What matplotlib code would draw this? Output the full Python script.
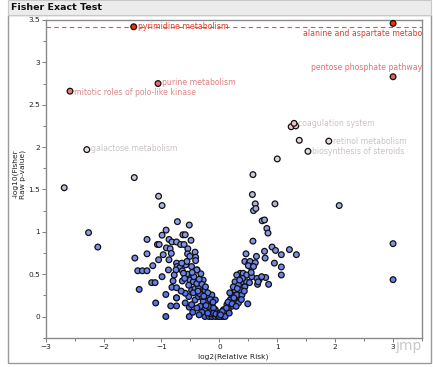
import matplotlib
matplotlib.use("Agg")
import matplotlib.pyplot as plt
from matplotlib.colors import LinearSegmentedColormap
from matplotlib.patches import Rectangle
from matplotlib.ticker import MultipleLocator

# unlabeled points, log2(relative risk) and -log10(p)
left_x = [-2.68, -1.47, -2.26, -2.10, -1.05, -0.99, -0.725, -0.52,
          -1.25, -0.92, -0.99, -1.07, -1.04, -0.87, -0.63, -0.59, -0.82, -0.74,
          -0.67, -0.61, -0.49, -0.915, -0.85, -0.545, -0.97, -0.83, -0.55, -0.42,
          -1.25, -1.46, -1.05, -0.87, -0.51, -0.41, -0.41, -0.74, -1.15, -0.73,
          -0.58, -0.68, -1.41, -1.33, -1.25, -0.88, -0.75, -0.64, -0.385, -0.32,
          -0.99, -0.78, -0.55, -0.50, -1.17, -1.11, -0.80, -0.64, -1.385, -0.925,
          -0.82, -0.74, -1.10, -0.84, -0.74, -0.52, -0.925, -0.52,
          -0.56, -0.48, -0.39, -0.28, -0.65, -0.62, -0.48, -0.42, -0.36, -0.30,
          -0.25, -0.19, -0.13, -0.22, -0.28, -0.33, -0.25, -0.16, -0.07, -0.02,
          0.04, -0.25, -0.18, -0.13, -0.07, -0.02, 0.04, -0.74, -0.53, -0.59,
          -0.51, -0.45, -0.39, -0.53, -0.13, -0.07, -0.42, -0.36, -0.30, -0.48,
          -0.39, -0.19, -0.10, -0.44, -0.35, -0.30, -0.24, -0.20, -0.16, -0.11,
          -0.34, -0.27, -0.23, -0.14, -0.10, -0.06, -0.30, -0.20, -0.45, -0.47,
          -0.37, -0.60, -0.66, -0.59, -0.46, -0.35, -0.74]
left_y = [1.52, 1.64, 0.99, 0.82, 1.42, 1.31, 1.12, 1.08,
          0.91, 1.02, 0.96, 0.85, 0.85, 0.91, 0.965, 0.965, 0.88, 0.88,
          0.85, 0.85, 0.90, 0.81, 0.80, 0.80, 0.73, 0.745, 0.74, 0.76,
          0.74, 0.69, 0.67, 0.67, 0.71, 0.70, 0.66, 0.63, 0.60, 0.59,
          0.61, 0.58, 0.54, 0.54, 0.54, 0.55, 0.55, 0.54, 0.55, 0.505,
          0.47, 0.49, 0.50, 0.45, 0.40, 0.40, 0.42, 0.42, 0.32, 0.26,
          0.345, 0.22, 0.16, 0.125, 0.125, 0.11, 0.0, 0.0,
          0.65, 0.59, 0.55, 0.43, 0.63, 0.51, 0.31, 0.33, 0.35, 0.29,
          0.31, 0.235, 0.14, 0.18, 0.18, 0.12, 0.08, 0.06, 0.08, 0.02,
          0.04, 0.0, 0.0, 0.0, 0.0, 0.0, 0.0, 0.34, 0.235, 0.275,
          0.43, 0.41, 0.39, 0.37, 0.255, 0.195, 0.195, 0.235, 0.235, 0.14,
          0.10, 0.12, 0.10, 0.47, 0.44, 0.38, 0.35, 0.28, 0.20, 0.17,
          0.27, 0.24, 0.13, 0.03, 0.04, 0.03, 0.05, 0.04, 0.28, 0.52,
          0.30, 0.45, 0.30, 0.16, 0.05, 0.02, 0.22]

right_x = [0.62, 0.59, 0.63, 0.96, 2.07, 0.74, 0.78, 0.82, 0.84, 0.58,
           3.0, 3.0, 0.91, 0.97, 1.21, 1.33, 1.07, 0.78, 0.79, 0.95,
           1.07, 1.07, 0.85, 0.80, 0.69, 0.66, 0.46, 0.44, 0.64, 0.51,
           0.53, 0.62, 0.49, 0.53, 0.50, 0.59, 0.36, 0.41, 0.30, 0.47,
           0.56, 0.65, 0.67, 0.73, 0.39, 0.47, 0.27, 0.33, 0.44, 0.36,
           0.27, 0.21, 0.30, 0.39, 0.185, 0.27, 0.33, 0.13, 0.21, 0.07,
           0.155, 0.01, 0.10, 0.06, 0.10, 0.00, 0.40, 0.35, 0.24, 0.31,
           0.18, 0.25, 0.15, 0.22, 0.12, 0.05, 0.17, 0.02, 0.43, 0.38,
           0.29, 0.52, 0.55,
           1.24, 1.32, 1.38, 1.00, 0.58, 0.57]
right_y = [1.33, 1.25, 1.275, 1.33, 1.31, 1.13, 1.14, 1.04, 0.985, 0.89,
           0.86, 0.435, 0.82, 0.78, 0.79, 0.73, 0.73, 0.77, 0.69, 0.63,
           0.585, 0.49, 0.38, 0.46, 0.44, 0.38, 0.74, 0.65, 0.71, 0.63,
           0.65, 0.635, 0.15, 0.59, 0.60, 0.59, 0.51, 0.51, 0.49, 0.49,
           0.47, 0.45, 0.41, 0.47, 0.41, 0.41, 0.41, 0.37, 0.35, 0.31,
           0.31, 0.255, 0.255, 0.255, 0.195, 0.195, 0.16, 0.14, 0.12, 0.08,
           0.08, 0.04, 0.04, 0.0, 0.0, 0.0, 0.45, 0.43, 0.35, 0.33,
           0.28, 0.22, 0.17, 0.15, 0.10, 0.06, 0.04, 0.02, 0.30, 0.20,
           0.12, 0.40, 0.52,
           2.24, 2.25, 2.08, 1.86, 1.675, 1.44]

# labeled pathways
names = ["pyrimidine metabolism", "alanine and aspartate metabo",
         "pentose phosphate pathway", "purine metabolism",
         "mitotic roles of polo-like kinase", "galactose metabolism",
         "coagulation system", "retinol metabolism", "biosynthesis of steroids"]
lab_x = [-1.48, 3.0, 3.0, -1.06, -2.58, -2.29, 1.29, 1.89, 1.53]
lab_y = [3.42, 3.46, 2.83, 2.75, 2.66, 1.97, 2.28, 2.07, 1.95]
lab_colors = ["#e0402c", "#d8402c", "#e07070", "#e08080", "#d88a8a",
              "#cbc2c2", "#d2c0c0", "#cbc2c2", "#cbc2c2"]
# offsets in pixels and alignment
lab_off = [(4, 0, "left", "center"), (0, -10, "right", "center"),
           (0, 9, "right", "center"), (4, 1, "left", "center"),
           (4, -1, "left", "center"), (4, 1, "left", "center"),
           (4, 0, "left", "center"), (4, 0, "left", "center"),
           (4, 0, "left", "center")]

sig_line = 3.42

cmap = LinearSegmentedColormap.from_list("jmp", [
    (0.0, "#4a68f0"), (0.15, "#6e86ea"), (0.3, "#909ee2"),
    (0.43, "#bcc0dc"), (0.57, "#e6e0e2"), (0.66, "#f0c4c4"),
    (0.77, "#ea7c7c"), (0.83, "#e85a52"), (1.0, "#ff2a00")])

fig = plt.figure(figsize=(4.33, 3.67), dpi=100)
W, H = 433, 367

# JMP panel frame and title bar
fig.patches.append(Rectangle((8 / W, 1 - 363 / H), 423 / W, 348 / H,
                             transform=fig.transFigure, facecolor="white",
                             edgecolor="#9a9a9a", lw=1.0, zorder=-5))
fig.patches.append(Rectangle((8 / W, 1 - 15 / H), 423 / W, 15 / H,
                             transform=fig.transFigure, facecolor="#ececec",
                             edgecolor="#c8c8c8", lw=0.8, zorder=-5))
fig.text(11 / W, 1 - 8 / H, "Fisher Exact Test", fontsize=6.8,
         fontweight="bold", va="center", ha="left", color="#111111")

ax = fig.add_axes([45.7 / W, 1 - 337.7 / H, (422 - 45.7) / W, (337.7 - 20) / H])
ax.set_zorder(2)
ax.set_facecolor("none")
ax.set_xlim(-3, 3.5)
ax.set_ylim(-0.25, 3.5)

ax.axhline(sig_line, color="#e85050", lw=0.8, ls=(0, (4, 3)), zorder=1)

all_x = left_x + right_x + lab_x
all_y = left_y + right_y + lab_y
ax.scatter(all_x, all_y, c=all_y, cmap=cmap, vmin=0, vmax=3.46, s=17,
           edgecolors="#111111", linewidths=0.9, zorder=3, clip_on=False)

for n, x, y, col, off in zip(names, lab_x, lab_y, lab_colors, lab_off):
    dx, dy, ha, va = off
    if ha == "right":
        # labels pushed against the right frame
        ax.annotate(n, xy=(1.0, y), xycoords=("axes fraction", "data"),
                    xytext=(dx, dy), textcoords="offset pixels",
                    ha=ha, va=va, fontsize=5.6, color=col, zorder=4)
    else:
        ax.annotate(n, xy=(x, y), xytext=(dx, dy), textcoords="offset pixels",
                    ha=ha, va=va, fontsize=5.6, color=col, zorder=4)

for s in ax.spines.values():
    s.set_color("#8a8a8a")
    s.set_linewidth(1.0)
ax.xaxis.set_major_locator(MultipleLocator(1))
ax.xaxis.set_minor_locator(MultipleLocator(0.5))
ax.yaxis.set_major_locator(MultipleLocator(0.5))
ax.yaxis.set_minor_locator(MultipleLocator(0.25))
ax.set_yticks([0, 0.5, 1, 1.5, 2, 2.5, 3, 3.5])
ax.set_yticklabels(["0", "0.5", "1", "1.5", "2", "2.5", "3", "3.5"])
ax.tick_params(which="both", direction="out", colors="#7a7a7a",
               labelcolor="#222222", labelsize=5.3, width=0.7)
ax.tick_params(which="major", length=3, pad=1.2)
ax.tick_params(which="minor", length=2)

fig.text(233 / W, 1 - 356.5 / H, "log2(Relative Risk)", fontsize=5.4,
         ha="center", va="center", color="#222222")
fig.text(19 / W, 1 - 174 / H, "-log10(Fisher\nRaw p-value)", fontsize=5.4,
         rotation=90, ha="center", va="center", color="#222222",
         multialignment="center", linespacing=1.05)

# watermark
fig.text(408 / W, 1 - 346 / H, "jmp", fontsize=10, color="#c8c8c8",
         ha="center", va="center")

fig.savefig("out.png", dpi=100)
